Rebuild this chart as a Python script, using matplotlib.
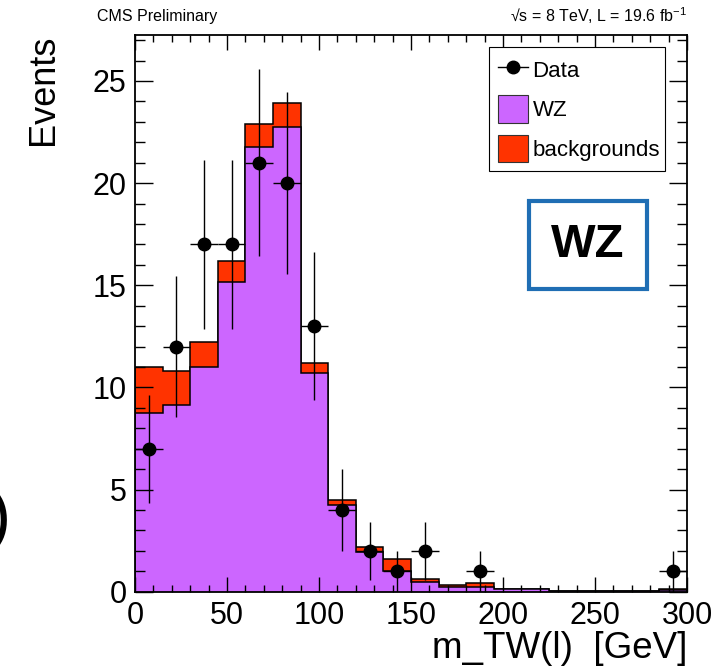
import numpy as np
import matplotlib
matplotlib.use('Agg')
import matplotlib.pyplot as plt
from matplotlib.ticker import MultipleLocator
from matplotlib.patches import Patch, Rectangle
from matplotlib.lines import Line2D

plt.rcParams['font.family'] = ['Liberation Sans', 'DejaVu Sans']
plt.rcParams['mathtext.default'] = 'regular'

# m_TW bins, 15 GeV wide
bin_edges = np.arange(0, 301, 15)
wz = [8.76, 9.14, 11.01, 15.14, 21.75, 22.76, 10.72, 4.24, 1.96, 1.03,
      0.49, 0.21, 0.24, 0.13, 0.12, 0.02, 0.02, 0.02, 0.02, 0.10]
backgrounds = [2.25, 1.68, 1.19, 1.06, 1.13, 1.14, 0.49, 0.25, 0.21, 0.56,
               0.15, 0.10, 0.17, 0.02, 0.01, 0.0, 0.0, 0.0, 0.0, 0.02]
data = [7, 12, 17, 17, 21, 20, 13, 4, 2, 1,
        2, 0, 1, 0, 0, 0, 0, 0, 0, 1]

wz_color = '#cc66ff'
bkg_color = '#ff3300'

fig = plt.figure(figsize=(7.27, 6.71), dpi=100)
ax = fig.add_axes([0.1857, 0.1182, 0.7593, 0.8296])

wz = np.array(wz)
total = wz + np.array(backgrounds)
ax.stairs(total, bin_edges, fill=True, facecolor=bkg_color, edgecolor='none')
ax.stairs(total, bin_edges, color='black', lw=1.1)
ax.stairs(wz, bin_edges, fill=True, facecolor=wz_color, edgecolor='none')
ax.stairs(wz, bin_edges, color='black', lw=1.1)

centers = 0.5 * (bin_edges[:-1] + bin_edges[1:])
d = np.array(data, dtype=float)
m = d > 0
ax.errorbar(centers[m], d[m], yerr=np.sqrt(d[m]), xerr=7.5, fmt='o',
            color='black', ms=9, elinewidth=1.0, capsize=0, zorder=5)

ax.set_xlim(0, 300)
ax.set_ylim(0, 27.25)
ax.xaxis.set_major_locator(MultipleLocator(50))
ax.xaxis.set_minor_locator(MultipleLocator(10))
ax.yaxis.set_major_locator(MultipleLocator(5))
ax.yaxis.set_minor_locator(MultipleLocator(1))
ax.tick_params(which='both', direction='in', top=True, right=True,
               labelsize=22, width=1.0)
ax.tick_params(axis='x', which='major', length=11, pad=7)
ax.tick_params(axis='x', which='minor', length=5)
ax.tick_params(axis='y', which='major', length=13, pad=6)
ax.tick_params(axis='y', which='minor', length=7)
for s in ax.spines.values():
    s.set_linewidth(1.3)

handles = [
    Line2D([], [], color='black', marker='o', ms=9, lw=1.0),
    Patch(facecolor=wz_color, edgecolor='#333333', lw=0.8),
    Patch(facecolor=bkg_color, edgecolor='#333333', lw=0.8),
]
leg = ax.legend(handles, ['Data', 'WZ', 'backgrounds'],
                loc='upper left', bbox_to_anchor=(0.641, 0.978, 0.319, 0.0),
                mode='expand', fontsize=16, handlelength=1.35,
                handleheight=1.5, labelspacing=0.55, borderpad=0.4,
                handletextpad=0.22, borderaxespad=0, fancybox=False,
                framealpha=1, edgecolor='black')
leg.get_frame().set_linewidth(0.8)

ax.add_patch(Rectangle((0.714, 0.544), 0.2137, 0.158, transform=ax.transAxes,
                       facecolor='white', edgecolor='#1f6eb4', lw=3, zorder=6))
ax.text(0.8207, 0.6228, 'WZ', transform=ax.transAxes, ha='center',
        va='center', fontsize=34, fontweight='bold', zorder=7)

fig.text(43 / 727, 1 - 35 / 671, 'Events', rotation=90, ha='center',
         va='top', fontsize=26)
fig.text(687 / 727, 1 - 648 / 671, 'm_TW(l)  [GeV]', ha='right',
         va='center', fontsize=26.5)
fig.text(97 / 727, 1 - 16 / 671, 'CMS Preliminary', ha='left',
         va='center', fontsize=11.5)
fig.text(687 / 727, 1 - 16 / 671, '√s = 8 TeV, L = 19.6 fb$^{-1}$',
         ha='right', va='center', fontsize=11.5)
# edge of the neighbouring panel's label, cut by the picture edge as in the original
fig.text(11 / 727, 1 - 520 / 671, ')', ha='right', va='center', fontsize=50)

fig.savefig('out.png', dpi=100)
